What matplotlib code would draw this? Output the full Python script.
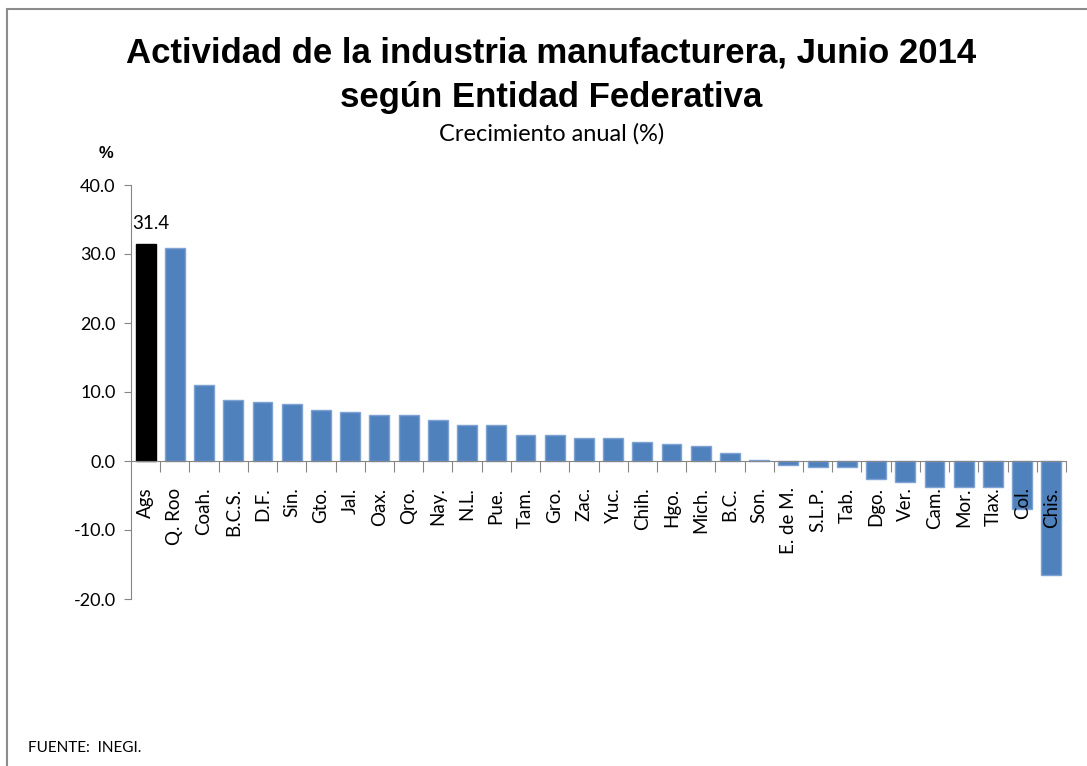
#!/usr/bin/env python3
"""Bar chart: annual growth of manufacturing activity by state, June 2014."""

import matplotlib.pyplot as plt
from matplotlib.patches import Rectangle

estados = [
    "Ags", "Q. Roo", "Coah.", "B.C.S.", "D.F.", "Sin.", "Gto.", "Jal.",
    "Oax.", "Qro.", "Nay.", "N.L.", "Pue.", "Tam.", "Gro.", "Zac.",
    "Yuc.", "Chih.", "Hgo.", "Mich.", "B.C.", "Son.", "E. de M.", "S.L.P.",
    "Tab.", "Dgo.", "Ver.", "Cam.", "Mor.", "Tlax.", "Col.", "Chis.",
]
crecimiento = [
    31.4, 30.9, 11.0, 8.8, 8.6, 8.3, 7.4, 7.1,
    6.6, 6.6, 5.9, 5.2, 5.2, 3.7, 3.7, 3.4,
    3.4, 2.7, 2.5, 2.2, 1.1, 0.1, -0.6, -0.9,
    -0.9, -2.6, -3.0, -3.8, -3.8, -3.8, -6.9, -16.5,
]
destacado = "Ags"
y_ticks = [-20, -10, 0, 10, 20, 30, 40]

AZUL = "#4F81BD"
BORDE_AZUL = "#7EA3D2"
GRIS = "#868686"
LABEL_FONT = ["Lato", "DejaVu Sans"]
TITLE_FONT = ["Liberation Sans", "DejaVu Sans"]

fig = plt.figure(figsize=(10.87, 7.66), dpi=100)
ax = fig.add_axes([131 / 1087, 1 - 599 / 766, (1066 - 131) / 1087, (599 - 185) / 766])

x = list(range(len(estados)))
colores = ["black" if e == destacado else AZUL for e in estados]
bordes = ["black" if e == destacado else BORDE_AZUL for e in estados]
ax.bar(x, crecimiento, width=0.68, color=colores, edgecolor=bordes, linewidth=1.0, zorder=2)

ax.set_xlim(-0.5, len(estados) - 0.5)
ax.set_ylim(-20, 40)
ax.set_yticks(y_ticks)
ax.set_yticklabels([f"{v:.1f}" for v in y_ticks], fontfamily=LABEL_FONT, fontsize=13)

for s in ("top", "right"):
    ax.spines[s].set_visible(False)
ax.spines["left"].set_color(GRIS)
ax.spines["bottom"].set_color(GRIS)
ax.spines["bottom"].set_position(("data", 0))
ax.spines["bottom"].set_zorder(3)
ax.tick_params(axis="y", direction="out", length=5, color=GRIS, pad=6)

# ticks on category boundaries, names centred under each bar (drawn over the bars)
ax.xaxis.set_zorder(4)
ax.set_xticks([i + 0.5 for i in x[:-1]] + [len(estados) - 0.5])
ax.set_xticklabels([])
ax.tick_params(axis="x", which="major", direction="out", length=8, color=GRIS)
ax.set_xticks(x, minor=True)
ax.set_xticklabels(estados, minor=True, rotation=90, fontfamily=LABEL_FONT,
                   fontsize=13.5, va="top", ha="center")
ax.tick_params(axis="x", which="minor", length=0, pad=19)

i_dest = estados.index(destacado)
ax.text(i_dest + 0.18, crecimiento[i_dest] + 1.8, f"{crecimiento[i_dest]:.1f}",
        ha="center", va="bottom", fontfamily=LABEL_FONT, fontsize=13.5)

fig.text(551 / 1087, 1 - 53 / 766, "Actividad de la industria manufacturera, Junio 2014",
         ha="center", va="center", fontfamily=TITLE_FONT, fontweight="bold", fontsize=25)
fig.text(551 / 1087, 1 - 97 / 766, "según Entidad Federativa",
         ha="center", va="center", fontfamily=TITLE_FONT, fontweight="bold", fontsize=25)
fig.text(552 / 1087, 1 - 134 / 766, "Crecimiento anual (%)",
         ha="center", va="center", fontfamily=LABEL_FONT, fontsize=17)
fig.text(106 / 1087, 1 - 153 / 766, "%", ha="center", va="center",
         fontfamily=TITLE_FONT, fontweight="bold", fontsize=12)
fig.text(28 / 1087, 1 - 748 / 766, "FUENTE:  INEGI.", ha="left", va="center",
         fontfamily=LABEL_FONT, fontsize=11)

# outer chart frame (top and left edges visible)
fig.patches.append(Rectangle((7 / 1087, -0.01), 1.2, 1 - 9 / 766 + 0.01,
                             transform=fig.transFigure, fill=False,
                             edgecolor="#8C8C8C", linewidth=1.5))

fig.savefig("out.png", dpi=100)
